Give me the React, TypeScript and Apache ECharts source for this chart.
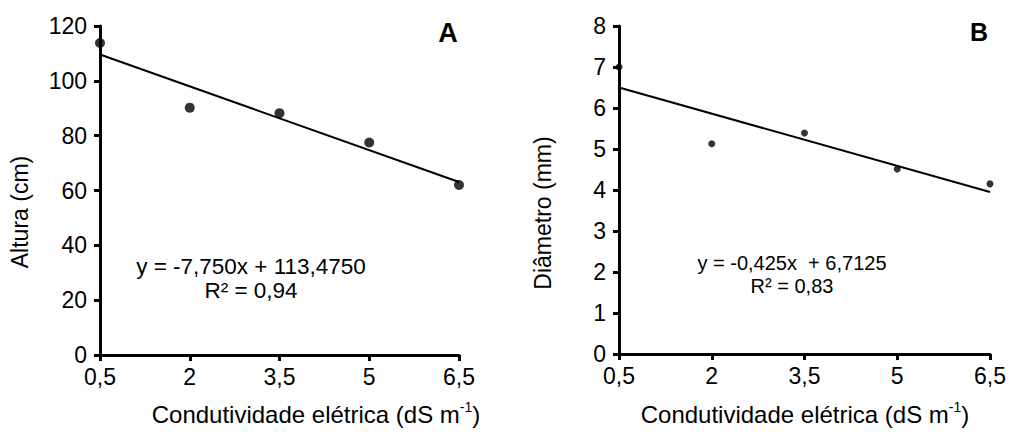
import React, { useEffect, useRef } from "react";
import * as echarts from "echarts";

const categories = ["0,5", "2", "3,5", "5", "6,5"];
const alturaValues = [113.8, 90.2, 88.2, 77.5, 62.0];
const diametroValues = [7.0, 5.13, 5.39, 4.51, 4.15];
// trend line end points (first and last category)
const alturaTrend = [109.6, 63.1];
const diametroTrend = [6.5, 3.95];
const alturaAxis = { min: 0, max: 120, interval: 20 };
const diametroAxis = { min: 0, max: 8, interval: 1 };

const FONT = "'Liberation Sans', Arial, sans-serif";

export default function App() {
  const ref = useRef<HTMLDivElement>(null);
  useEffect(() => {
    document.body.style.margin = "0";
    if (!ref.current) return;
    const chart = echarts.init(ref.current, undefined, { renderer: "svg" });
    const axisLine = { show: true, lineStyle: { color: "#000", width: 3 } };
    const axisTick = { show: true, length: 6, lineStyle: { color: "#000", width: 3 } };
    const labelStyle = { color: "#000", fontSize: 23, fontFamily: FONT };
    const xAxisBase = (gridIndex: number) => ({
      type: "category",
      gridIndex,
      data: categories,
      boundaryGap: false,
      axisLine,
      axisTick: { ...axisTick, alignWithLabel: true },
      axisLabel: { ...labelStyle, margin: 10, interval: 0 },
      splitLine: { show: false },
    });
    const yAxisBase = (gridIndex: number, ax: { min: number; max: number; interval: number }) => ({
      type: "value",
      gridIndex,
      min: ax.min,
      max: ax.max,
      interval: ax.interval,
      axisLine,
      axisTick,
      axisLabel: { ...labelStyle, margin: 13 },
      splitLine: { show: false },
    });
    const titleRich = {
      sup: { fontSize: 14, fontFamily: FONT, fill: "#000", verticalAlign: "top", lineHeight: 28 },
    };
    const titleStyle = {
      text: "Condutividade elétrica (dS m{sup|-1})",
      rich: titleRich,
      fontSize: 24,
      lineHeight: 28,
      fontFamily: FONT,
      fill: "#000",
      align: "center",
      verticalAlign: "middle",
    };
    chart.setOption({
      animation: false,
      backgroundColor: "#fff",
      grid: [
        { left: 100, top: 26, width: 359, height: 329 },
        { left: 619, top: 26, width: 371, height: 328 },
      ],
      xAxis: [xAxisBase(0), xAxisBase(1)],
      yAxis: [yAxisBase(0, alturaAxis), yAxisBase(1, diametroAxis)],
      series: [
        {
          type: "line",
          xAxisIndex: 0,
          yAxisIndex: 0,
          data: [
            [0, alturaTrend[0]],
            [categories.length - 1, alturaTrend[1]],
          ],
          showSymbol: false,
          symbol: "none",
          lineStyle: { color: "#000", width: 2 },
          z: 3,
        },
        {
          type: "scatter",
          xAxisIndex: 0,
          yAxisIndex: 0,
          data: alturaValues,
          symbolSize: 10,
          itemStyle: { color: "#000" },
          z: 4,
        },
        {
          type: "line",
          xAxisIndex: 1,
          yAxisIndex: 1,
          data: [
            [0, diametroTrend[0]],
            [categories.length - 1, diametroTrend[1]],
          ],
          showSymbol: false,
          symbol: "none",
          lineStyle: { color: "#000", width: 2 },
          z: 3,
        },
        {
          type: "scatter",
          xAxisIndex: 1,
          yAxisIndex: 1,
          data: diametroValues,
          symbolSize: 7,
          itemStyle: { color: "#000" },
          z: 4,
        },
      ],
      graphic: [
        {
          type: "text",
          x: 448,
          y: 33,
          style: { text: "A", fontSize: 27, fontWeight: "bold", fontFamily: FONT, fill: "#000", align: "center", verticalAlign: "middle" },
        },
        {
          type: "text",
          x: 979,
          y: 32,
          style: { text: "B", fontSize: 25, fontWeight: "bold", fontFamily: FONT, fill: "#000", align: "center", verticalAlign: "middle" },
        },
        {
          type: "text",
          x: 251,
          y: 278,
          style: {
            text: "y = -7,750x + 113,4750\nR² = 0,94",
            fontSize: 22.5,
            lineHeight: 24,
            fontFamily: FONT,
            fill: "#000",
            align: "center",
            verticalAlign: "middle",
          },
        },
        {
          type: "text",
          x: 792,
          y: 274,
          style: {
            text: "y = -0,425x  + 6,7125\nR² = 0,83",
            fontSize: 20,
            lineHeight: 23,
            fontFamily: FONT,
            fill: "#000",
            align: "center",
            verticalAlign: "middle",
          },
        },
        {
          type: "text",
          x: 20,
          y: 212,
          rotation: Math.PI / 2,
          style: { text: "Altura (cm)", fontSize: 23, fontFamily: FONT, fill: "#000", align: "center", verticalAlign: "middle" },
        },
        {
          type: "text",
          x: 543,
          y: 213,
          rotation: Math.PI / 2,
          style: { text: "Diâmetro (mm)", fontSize: 23, fontFamily: FONT, fill: "#000", align: "center", verticalAlign: "middle" },
        },
        { type: "text", x: 316, y: 414, style: titleStyle },
        { type: "text", x: 805, y: 414, style: titleStyle },
      ],
    });
    return () => chart.dispose();
  }, []);
  return <div ref={ref} style={{ width: 1010, height: 432 }} />;
}
